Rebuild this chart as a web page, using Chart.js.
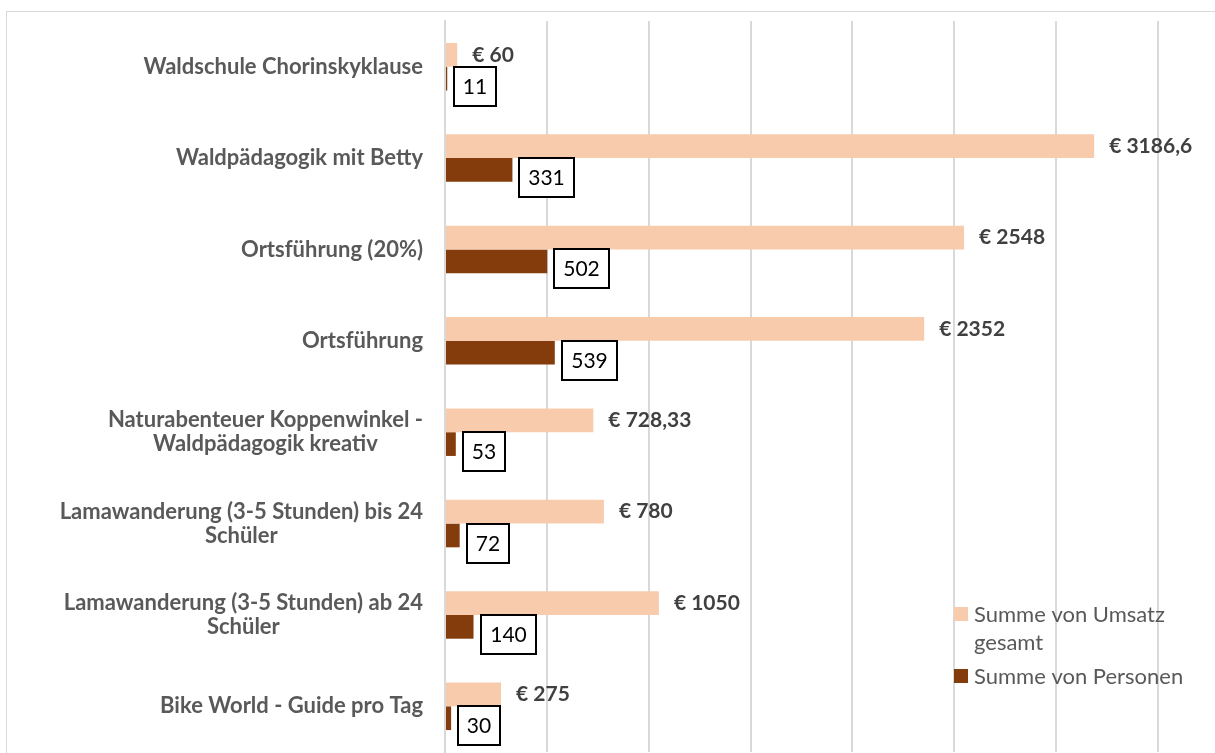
<!DOCTYPE html>
<html>
<head>
<meta charset="utf-8">
<script src="https://cdn.jsdelivr.net/npm/chart.js@4.4.1/dist/chart.umd.min.js"></script>
<style>
  html, body { margin: 0; padding: 0; background: #fff; overflow: hidden; }
  #rahmen { position: absolute; left: 6px; top: 11px; width: 1300px; height: 900px; border: 1px solid #d9d9d9; }
  #wrap { position: absolute; left: 0; top: 0; width: 1215px; height: 753px; }
</style>
</head>
<body>
<div id="rahmen"></div>
<div id="wrap"><canvas id="grafico" width="1215" height="753"></canvas></div>
<script>
const kategorien = [
  ['Waldschule Chorinskyklause'],
  ['Waldpädagogik mit Betty'],
  ['Ortsführung (20%)'],
  ['Ortsführung'],
  ['Naturabenteuer Koppenwinkel -', 'Waldpädagogik kreativ'],
  ['Lamawanderung (3-5 Stunden) bis 24', 'Schüler'],
  ['Lamawanderung (3-5 Stunden) ab 24', 'Schüler'],
  ['Bike World - Guide pro Tag']
];
const umsatz = [60, 3186.6, 2548, 2352, 728.33, 780, 1050, 275];
const personen = [11, 331, 502, 539, 53, 72, 140, 30];
const xTicks = [0, 500, 1000, 1500, 2000, 2500, 3000, 3500];
const serien = ['Summe von Umsatz gesamt', 'Summe von Personen'];
const farben = ['#F8CBAD', '#843C0C'];

const SCHRIFT = 'Lato, "Open Sans", sans-serif';

// Kategorienamen links, mehrzeilig und zentriert untereinander
const achsenText = {
  id: 'achsenText',
  afterDraw(chart) {
    const ctx = chart.ctx;
    const y = chart.scales.y;
    ctx.save();
    ctx.font = 'bold 22px ' + SCHRIFT;
    ctx.fillStyle = '#595959';
    ctx.textBaseline = 'middle';
    ctx.textAlign = 'center';
    kategorien.forEach((zeilen, i) => {
      const breite = Math.max(...zeilen.map(z => ctx.measureText(z).width));
      const mitteX = chart.chartArea.left - 22 - breite / 2;
      const mitteY = y.getPixelForValue(i);
      zeilen.forEach((z, j) => {
        ctx.fillText(z, mitteX, mitteY + (j - (zeilen.length - 1) / 2) * 24);
      });
    });
    ctx.restore();
  }
};

// Werte an den Balken: Umsatz als Text, Personen im Kasten
const werte = {
  id: 'werte',
  afterDatasetsDraw(chart) {
    const ctx = chart.ctx;
    ctx.save();
    ctx.textBaseline = 'middle';
    ctx.font = 'bold 21px ' + SCHRIFT;
    ctx.fillStyle = '#404040';
    ctx.textAlign = 'left';
    chart.getDatasetMeta(0).data.forEach((bar, i) => {
      ctx.fillText('€ ' + String(umsatz[i]).replace('.', ','), bar.x + 15, bar.y);
    });
    ctx.font = '21px ' + SCHRIFT;
    chart.getDatasetMeta(1).data.forEach((bar, i) => {
      const txt = String(personen[i]);
      const w = Math.round(ctx.measureText(txt).width + 18);
      const h = 39;
      const x0 = Math.round(bar.x + 7);
      const y0 = Math.round(bar.y - bar.height / 2);
      ctx.fillStyle = '#fff';
      ctx.fillRect(x0, y0, w, h);
      ctx.lineWidth = 2;
      ctx.strokeStyle = '#000';
      ctx.strokeRect(x0, y0, w, h);
      ctx.fillStyle = '#000';
      ctx.textAlign = 'center';
      ctx.fillText(txt, x0 + w / 2, y0 + h / 2 + 1);
    });
    ctx.restore();
  }
};

// Legende rechts unten im Diagramm, lange Namen werden umgebrochen
const legende = {
  id: 'legende',
  afterDraw(chart) {
    const ctx = chart.ctx;
    ctx.save();
    ctx.font = '22px ' + SCHRIFT;
    ctx.textBaseline = 'middle';
    ctx.textAlign = 'left';
    let y = 615;
    serien.forEach((name, k) => {
      const zeilen = [];
      let akt = '';
      name.split(' ').forEach(wort => {
        const probe = akt ? akt + ' ' + wort : wort;
        if (ctx.measureText(probe).width > 225 && akt) {
          zeilen.push(akt);
          akt = wort;
        } else {
          akt = probe;
        }
      });
      zeilen.push(akt);
      ctx.fillStyle = farben[k];
      ctx.fillRect(954, y - 8, 14, 14);
      ctx.fillStyle = '#595959';
      zeilen.forEach((z, j) => ctx.fillText(z, 974, y + j * 28));
      y += zeilen.length * 28 + 6;
    });
    ctx.restore();
  }
};

new Chart(document.getElementById('grafico').getContext('2d'), {
  type: 'bar',
  data: {
    labels: kategorien.map(k => k.join(' ')),
    datasets: [
      { label: serien[0], data: umsatz, backgroundColor: farben[0] },
      { label: serien[1], data: personen, backgroundColor: farben[1] }
    ]
  },
  options: {
    indexAxis: 'y',
    responsive: false,
    animation: false,
    categoryPercentage: 0.52,
    barPercentage: 1,
    layout: { padding: { top: 21, right: 57, bottom: 1, left: 0 } },
    plugins: {
      legend: { display: false },
      tooltip: { enabled: false }
    },
    scales: {
      x: {
        min: 0,
        max: 3500,
        afterBuildTicks: s => { s.ticks = xTicks.map(v => ({ value: v })); },
        grid: { color: '#d9d9d9', lineWidth: 2, drawTicks: false },
        border: { display: false },
        ticks: { display: false },
        afterFit: s => { s.height = 0; }
      },
      y: {
        grid: { display: false, drawTicks: false },
        border: { display: true, color: '#d9d9d9', width: 2 },
        ticks: { display: false },
        afterFit: s => { s.width = 445; }
      }
    }
  },
  plugins: [werte, achsenText, legende]
});
</script>
</body>
</html>
